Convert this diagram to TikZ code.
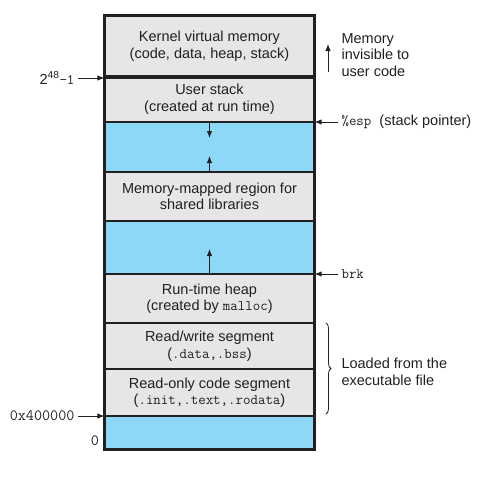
\documentclass[tikz,border=0pt]{standalone}
\usepackage{fontspec}
\setmainfont{Liberation Sans}
\usepackage{xcolor}
\definecolor{segrey}{RGB}{230,230,232}
\definecolor{freeblue}{RGB}{141,216,246}
\definecolor{inkdark}{RGB}{35,31,32}
\usepackage{tikz}
\usetikzlibrary{arrows.meta,decorations.pathreplacing}

\begin{document}
\begin{tikzpicture}[x=1pt,y=-1pt,
        every node/.style={font=\fontsize{14.5}{16.5}\selectfont,text=inkdark},
        seg/.style={rectangle,fill=segrey,draw=inkdark,line width=1.3pt,minimum width=209pt,inner sep=0pt,align=center},
        gap/.style={seg,fill=freeblue},
        addr/.style={font=\fontsize{15.7}{17}\selectfont},
        tip/.style={-{Latex[length=7pt,width=5.5pt]},line width=0.9pt,draw=inkdark}]
        \useasboundingbox (0,0) rectangle (481,485);
        % segments, top to bottom
        \node[seg,minimum height=60pt] (kern) at (209.5,46) {Kernel virtual memory\\(code, data, heap, stack)};
        \node[seg,minimum height=46pt] (ustack) at (209.5,99) {User stack\\(created at run time)};
        \node[gap,minimum height=50pt] (gapa) at (209.5,147) {};
        \node[seg,minimum height=49pt] (mmap) at (209.5,196.5) {Memory-mapped region for\\shared libraries};
        \node[gap,minimum height=53pt] (gapb) at (209.5,247.5) {};
        \node[seg,minimum height=49pt] (heap) at (209.5,298.5) {Run-time heap\\(created by \texttt{malloc})};
        \node[seg,minimum height=46pt] (rw) at (209.5,346) {Read/write segment\\(\texttt{.data,.bss})};
        \node[seg,minimum height=47pt] (ro) at (209.5,392.5) {Read-only code segment\\(\texttt{.init,.text,.rodata})};
        \node[gap,minimum height=33pt] (low) at (209.5,432.5) {};
        \draw[line width=4pt,inkdark] (kern.south west) -- (kern.south east);
        \draw[line width=2pt,inkdark] (kern.north west) rectangle (low.south east);

        % growth arrows
        \coordinate (stackend) at (209.5,138);
        \coordinate (mmapend) at (209.5,156);
        \coordinate (heapend) at (209.5,249);
        \draw[tip] (ustack.south) -- (stackend);
        \draw[tip] (mmap.north) -- (mmapend);
        \draw[tip] (heap.north) -- (heapend);

        % left addresses
        \node[anchor=east] (topaddr) at (78,78) {2\textsuperscript{48}\texttt{-1}};
        \node[anchor=east,addr] (textaddr) at (78,416) {\texttt{0x400000}};
        \node[addr] (zero) at (95,441) {\texttt{0}};
        \draw[tip] (topaddr) -- (topaddr -| ustack.west);
        \draw[tip] (textaddr) -- (textaddr -| ro.west);

        % right labels
        \node[anchor=west,align=left] (invis) at (338,55) {Memory\\invisible to\\user code};
        \coordinate (invisfoot) at (328,72);
        \coordinate (invishead) at (328,44);
        \draw[tip] (invisfoot) -- (invishead);
        \node[anchor=west] (esp) at (338,122) {\texttt{\%esp}\ \ (stack pointer)};
        \node[anchor=west] (brk) at (338,274) {\texttt{brk}};
        \draw[tip] (esp) -- (esp -| ustack.east);
        \draw[tip] (brk) -- (brk -| gapb.east);
        \coordinate (bracetop) at (326,323);
        \coordinate (bracefoot) at (326,414);
        \draw[decorate,decoration={brace,amplitude=5pt},line width=0.8pt,inkdark] (bracetop) -- (bracefoot);
        \node[anchor=west,align=left] (loaded) at (338,372) {Loaded from the\\executable file};
    \end{tikzpicture}
\end{document}
